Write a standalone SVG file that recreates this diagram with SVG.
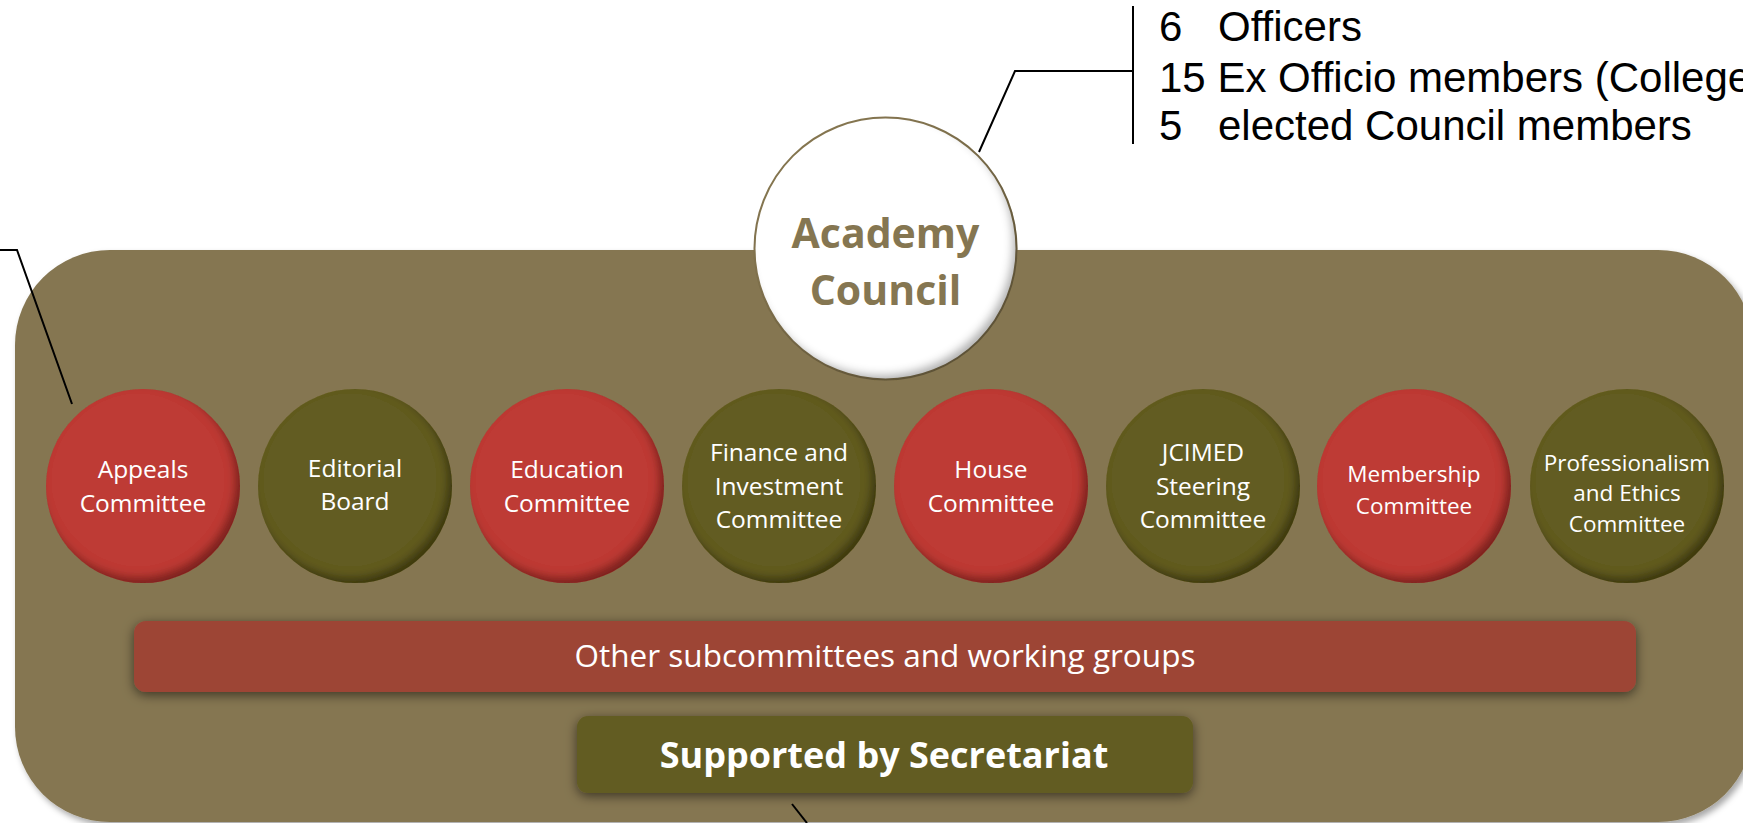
<svg xmlns="http://www.w3.org/2000/svg" width="1743" height="823" viewBox="0 0 1743 823">
  <defs>
    <filter id="panelShadow" x="-5%" y="-5%" width="110%" height="110%">
      <feDropShadow dx="3" dy="4" stdDeviation="3" flood-color="#000" flood-opacity="0.35"/>
    </filter>
    <filter id="barShadow" x="-5%" y="-40%" width="110%" height="180%">
      <feDropShadow dx="0" dy="3" stdDeviation="6" flood-color="#000" flood-opacity="0.55"/>
    </filter>
    <filter id="bevel" x="-10%" y="-10%" width="120%" height="120%">
      <feGaussianBlur in="SourceAlpha" stdDeviation="4" result="blur"/>
      <feOffset in="blur" dx="-5" dy="-6" result="off"/>
      <feComposite in="SourceAlpha" in2="off" operator="out" result="cres"/>
      <feFlood flood-color="#000" flood-opacity="0.6"/>
      <feComposite in2="cres" operator="in" result="sh"/>
      <feMerge><feMergeNode in="SourceGraphic"/><feMergeNode in="sh"/></feMerge>
    </filter>
    <filter id="bevelLight" x="-10%" y="-10%" width="120%" height="120%">
      <feGaussianBlur in="SourceAlpha" stdDeviation="4" result="blur"/>
      <feOffset in="blur" dx="-5" dy="-6" result="off"/>
      <feComposite in="SourceAlpha" in2="off" operator="out" result="cres"/>
      <feFlood flood-color="#000" flood-opacity="0.55"/>
      <feComposite in2="cres" operator="in" result="sh"/>
      <feMerge><feMergeNode in="SourceGraphic"/><feMergeNode in="sh"/></feMerge>
    </filter>
  </defs>
  <style>
    .red { fill: #BE3A35; }
    .olive { fill: #625C22; }
    .lbl { font-family: "Open Sans", Lato, sans-serif; font-size: 24.5px; fill: #FFFFFF; text-anchor: middle; }
    .lbl.sm { font-size: 22.5px; }
    .info { font-family: "Liberation Sans", Arial, sans-serif; font-size: 42px; fill: #000; }
    .conn { fill: none; stroke: #000; stroke-width: 2; }
    .title { font-family: "Open Sans", Lato, sans-serif; font-weight: bold; font-size: 41px; fill: #857651; text-anchor: middle; }
  </style>

  <g id="panel">
    <rect x="15" y="250" width="1738" height="572" rx="95" ry="95" fill="#857651" filter="url(#panelShadow)"/>
  </g>

  <g id="connectors">
    <polyline class="conn" points="0,250 17,250 72,404"/>
    <polyline class="conn" points="979,152 1015,71 1133,71"/>
    <line class="conn" x1="1133" y1="6" x2="1133" y2="144"/>
    <line class="conn" x1="792" y1="804" x2="807" y2="823"/>
  </g>

  <g id="council-composition">
    <text class="info" x="1159" y="41">6</text>
    <text class="info" x="1218" y="41">Officers</text>
    <text class="info" x="1159" y="92">15 Ex Officio members (Colleges)</text>
    <text class="info" x="1159" y="140">5</text>
    <text class="info" x="1218" y="140">elected Council members</text>
  </g>

  <g id="academy-council">
    <circle cx="885.5" cy="248.5" r="131" fill="#FFFFFF" stroke="#857651" stroke-width="2" filter="url(#bevelLight)"/>
    <text class="title" x="885.5" y="248">Academy</text>
    <text class="title" x="885.5" y="305">Council</text>
  </g>

  <g id="appeals">
    <circle class="red" cx="143" cy="486" r="97" filter="url(#bevel)"/>
    <text class="lbl" x="143" y="478">Appeals</text>
    <text class="lbl" x="143" y="512">Committee</text>
  </g>
  <g id="editorial">
    <circle class="olive" cx="355" cy="486" r="97" filter="url(#bevel)"/>
    <text class="lbl" x="355" y="477">Editorial</text>
    <text class="lbl" x="355" y="510">Board</text>
  </g>
  <g id="education">
    <circle class="red" cx="567" cy="486" r="97" filter="url(#bevel)"/>
    <text class="lbl" x="567" y="478">Education</text>
    <text class="lbl" x="567" y="512">Committee</text>
  </g>
  <g id="finance">
    <circle class="olive" cx="779" cy="486" r="97" filter="url(#bevel)"/>
    <text class="lbl" x="779" y="461">Finance and</text>
    <text class="lbl" x="779" y="495">Investment</text>
    <text class="lbl" x="779" y="528">Committee</text>
  </g>
  <g id="house">
    <circle class="red" cx="991" cy="486" r="97" filter="url(#bevel)"/>
    <text class="lbl" x="991" y="478">House</text>
    <text class="lbl" x="991" y="512">Committee</text>
  </g>
  <g id="jcimed">
    <circle class="olive" cx="1203" cy="486" r="97" filter="url(#bevel)"/>
    <text class="lbl" x="1203" y="461">JCIMED</text>
    <text class="lbl" x="1203" y="495">Steering</text>
    <text class="lbl" x="1203" y="528">Committee</text>
  </g>
  <g id="membership">
    <circle class="red" cx="1414" cy="486" r="97" filter="url(#bevel)"/>
    <text class="lbl sm" x="1414" y="482">Membership</text>
    <text class="lbl sm" x="1414" y="514">Committee</text>
  </g>
  <g id="professionalism">
    <circle class="olive" cx="1627" cy="486" r="97" filter="url(#bevel)"/>
    <text class="lbl sm" x="1627" y="471">Professionalism</text>
    <text class="lbl sm" x="1627" y="501">and Ethics</text>
    <text class="lbl sm" x="1627" y="532">Committee</text>
  </g>

  <g id="other-subcommittees">
    <rect x="134" y="621" width="1502" height="71" rx="12" ry="12" fill="#9D4536" filter="url(#barShadow)"/>
    <text x="885" y="667" font-family="'Open Sans', Lato, sans-serif" font-size="31.5" fill="#FFFFFF" text-anchor="middle">Other subcommittees and working groups</text>
  </g>

  <g id="secretariat">
    <rect x="577" y="716" width="616" height="77" rx="11" ry="11" fill="#625C22" filter="url(#barShadow)"/>
    <text x="884" y="768" font-family="'Open Sans', Lato, sans-serif" font-weight="bold" font-size="36" fill="#FFFFFF" text-anchor="middle">Supported by Secretariat</text>
  </g>
</svg>
